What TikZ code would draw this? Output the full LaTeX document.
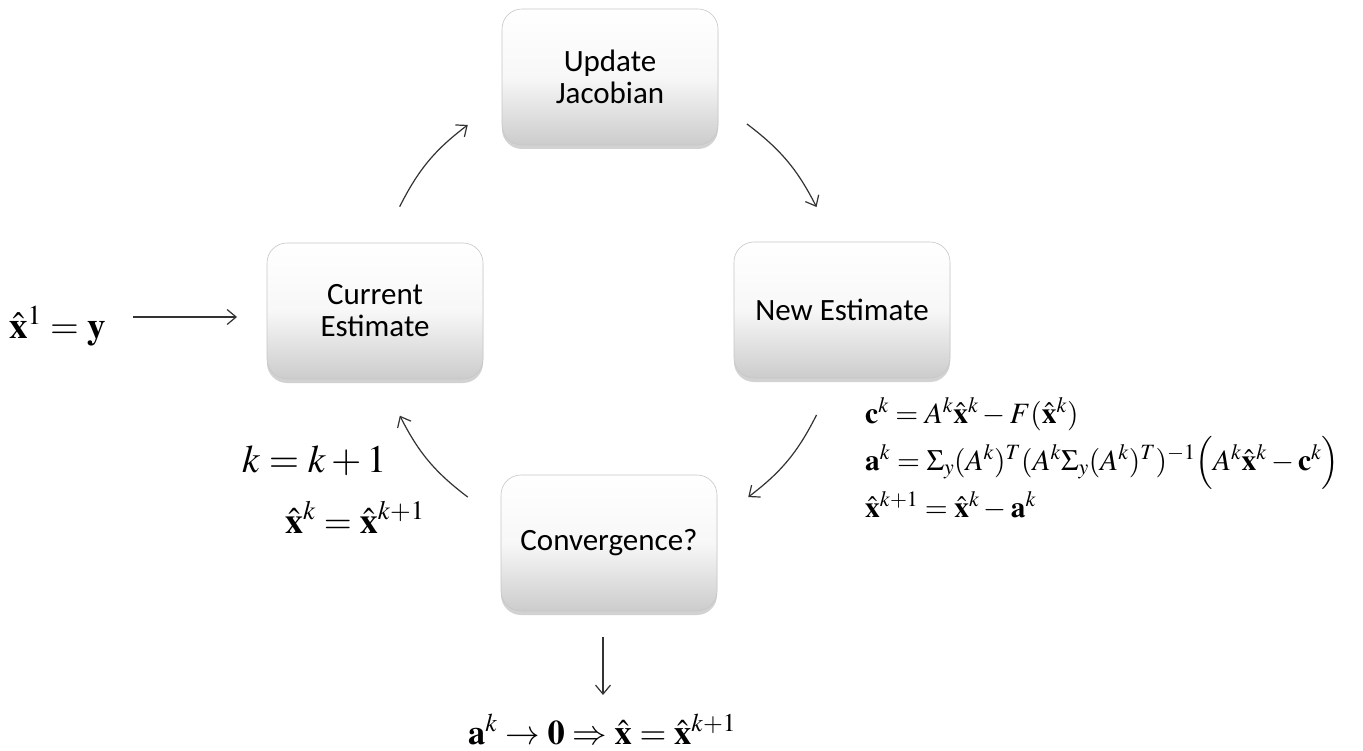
\documentclass[tikz,border=0pt]{standalone}
\usepackage{mathptmx}
\usepackage[no-math]{fontspec}
\setmainfont{Carlito}
\usetikzlibrary{arrows.meta,shadows,calc}
\begin{document}
\begin{tikzpicture}[x=1pt,y=-1pt,
  box/.style={rounded corners=20pt, minimum width=216pt, minimum height=136pt,
    draw=black!22, line width=0.6pt, top color=white, bottom color=black!20,
    middle color=black!3, align=center, font=\fontsize{31}{32}\selectfont,
    drop shadow={shadow xshift=0pt, shadow yshift=-4pt, opacity=0.35}},
  arr/.style={draw=black!80, line width=1.2pt, -{Straight Barb[length=9pt,width=15pt]}},
  eq/.style={anchor=base west, inner sep=0pt}
  ]
\useasboundingbox (0,0) rectangle (1363,751);
\fill[white] (0,0) rectangle (1363,751);
% boxes
\node[box] (upd) at (610,77) {Update\\Jacobian};
\node[box] (cur) at (375,311) {Current\\Estimate};
\node[box] (new) at (842,310) {New Estimate};
\node[box] (conv) at (609,543) {Convergence?};
% cycle arcs
\coordinate (O) at (608,311);
\coordinate (a1s) at ($(O)+(153.4:233pt)$);
\coordinate (a1e) at ($(O)+(127:233pt)$);
\coordinate (a2s) at ($(O)+(53.4:233pt)$);
\coordinate (a2e) at ($(O)+(26.5:233pt)$);
\coordinate (a3s) at ($(O)+(-26.5:233pt)$);
\coordinate (a3e) at ($(O)+(-53:233pt)$);
\coordinate (a4s) at ($(O)+(-127:233pt)$);
\coordinate (a4e) at ($(O)+(-153.3:233pt)$);
\draw[arr] (a1s) to[bend left=13] (a1e);
\draw[arr] (a2s) to[bend left=13] (a2e);
\draw[arr] (a3s) to[bend left=13] (a3e);
\draw[arr] (a4s) to[bend left=13] (a4e);
% formulas
\node[eq, font=\fontsize{37}{40}\selectfont] (x1) at (9,338) {$\hat{\mathbf{x}}^1 = \mathbf{y}$};
\node[eq, font=\fontsize{39}{42}\selectfont] (kk) at (242,472) {$k = k+1$};
\node[eq, font=\fontsize{36}{38}\selectfont] (xk) at (285,533) {$\hat{\mathbf{x}}^k = \hat{\mathbf{x}}^{k+1}$};
\node[eq, font=\fontsize{29.5}{30}\selectfont] (f1) at (865,423) {$\mathbf{c}^k = A^k\hat{\mathbf{x}}^k - F(\hat{\mathbf{x}}^k)$};
\node[eq, font=\fontsize{29.5}{30}\selectfont] (f2) at (865,470) {$\mathbf{a}^k = \Sigma_y(A^k)^T(A^k\Sigma_y(A^k)^T)^{-1}\Big(A^k\hat{\mathbf{x}}^k - \mathbf{c}^k\Big)$};
\node[eq, font=\fontsize{29.5}{30}\selectfont] (f3) at (865,517) {$\hat{\mathbf{x}}^{k+1} = \hat{\mathbf{x}}^k - \mathbf{a}^k$};
\node[eq, font=\fontsize{34.5}{36}\selectfont] (fin) at (468,744) {$\mathbf{a}^k \rightarrow \mathbf{0} \Rightarrow \hat{\mathbf{x}} = \hat{\mathbf{x}}^{k+1}$};
% straight arrows
\coordinate (s1) at (133,317);
\coordinate (s2) at (237,317);
\draw[arr] (s1) -- (s2);
\coordinate (d1) at (603,637);
\coordinate (d2) at (603,695);
\draw[arr] (d1) -- (d2);
\end{tikzpicture}
\end{document}
